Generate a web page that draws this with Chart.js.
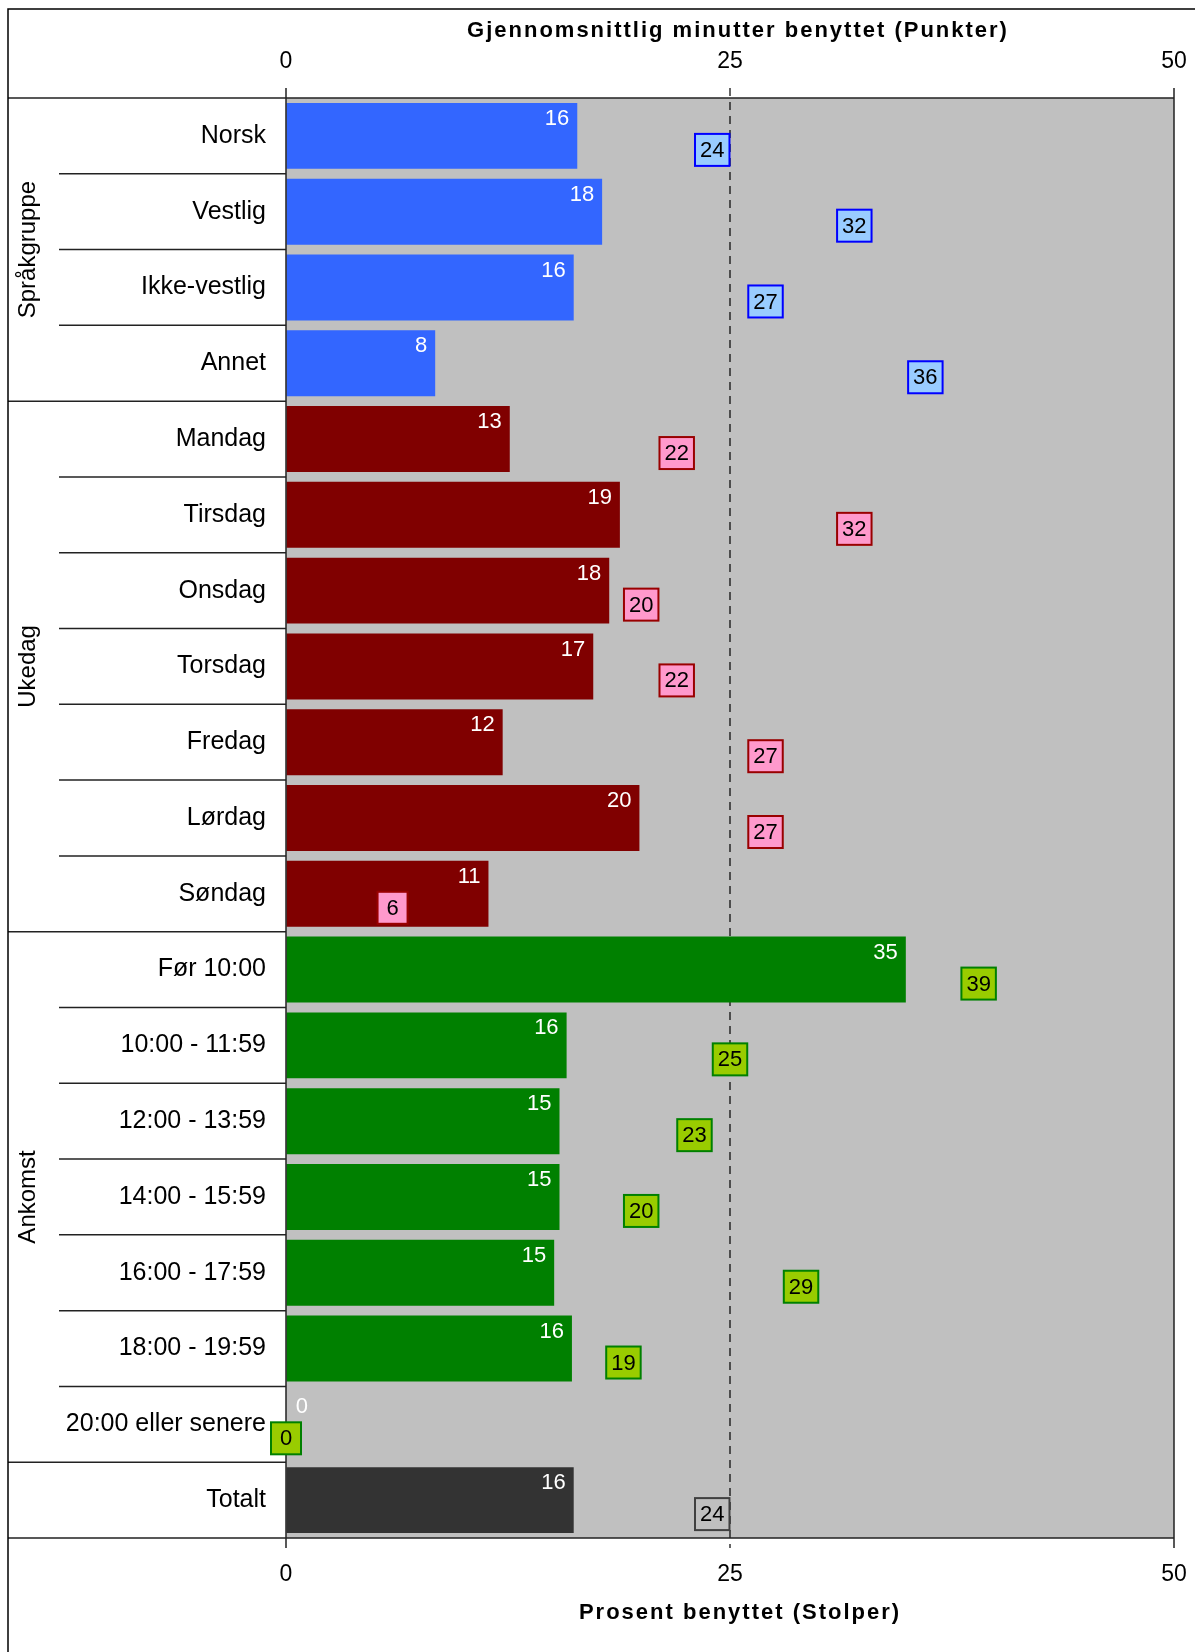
<!DOCTYPE html>
<html>
<head>
<meta charset="utf-8">
<script src="https://cdn.jsdelivr.net/npm/chart.js@4.4.0/dist/chart.umd.min.js"></script>
<style>
  html, body { margin: 0; padding: 0; background: #fff; }
  canvas { display: block; }
</style>
</head>
<body>
<canvas id="chart-main" width="1195" height="1652"></canvas>
<script>
// --- Data ---
const kategorier = ["Norsk", "Vestlig", "Ikke-vestlig", "Annet",
  "Mandag", "Tirsdag", "Onsdag", "Torsdag", "Fredag", "Lørdag", "Søndag",
  "Før 10:00", "10:00 - 11:59", "12:00 - 13:59", "14:00 - 15:59", "16:00 - 17:59", "18:00 - 19:59", "20:00 eller senere",
  "Totalt"];
const prosent = [16.4, 17.8, 16.2, 8.4, 12.6, 18.8, 18.2, 17.3, 12.2, 19.9, 11.4, 34.9, 15.8, 15.4, 15.4, 15.1, 16.1, 0, 16.2];
const minutter = [24, 32, 27, 36, 22, 32, 20, 22, 27, 27, 6, 39, 25, 23, 20, 29, 19, 0, 24];
const gruppeNavn = ["Språkgruppe", "Ukedag", "Ankomst", ""];
const gruppeStr = [4, 7, 7, 1];
const akseTicks = [0, 25, 50];

// farger per gruppe
const stolpeFarge = ["#3366ff", "#800000", "#008000", "#333333"];
const boksFyll = ["#99ccff", "#ff99cc", "#99cc00", "#c0c0c0"];
const boksKant = ["#0000ff", "#990000", "#008000", "#404040"];

const FONT = '"Liberation Sans", Arial, sans-serif';

// hvilken gruppe hver rad tilhører
const gruppeIdx = [];
gruppeStr.forEach((n, g) => { for (let i = 0; i < n; i++) gruppeIdx.push(g); });

const ekstra = {
  id: "ekstra",
  beforeDraw(chart) {
    const { ctx, chartArea: a } = chart;
    ctx.save();
    ctx.fillStyle = "#fff";
    ctx.fillRect(0, 0, chart.width, chart.height);
    ctx.fillStyle = "#c0c0c0";
    ctx.fillRect(a.left, a.top, a.right - a.left, a.bottom - a.top);
    ctx.restore();
  },
  beforeDatasetsDraw(chart) {
    const { ctx, chartArea: a, scales } = chart;
    const x25 = scales.x.getPixelForValue(25);
    ctx.save();
    ctx.strokeStyle = "#000";
    ctx.lineWidth = 1.2;
    ctx.setLineDash([8, 6]);
    ctx.beginPath();
    ctx.moveTo(x25, a.top - 10);
    ctx.lineTo(x25, a.bottom + 10);
    ctx.stroke();
    ctx.restore();
  },
  afterDatasetsDraw(chart) {
    const { ctx, chartArea: a, scales } = chart;
    const y = scales.y;
    ctx.save();

    // skillelinjer i venstre felt
    ctx.strokeStyle = "#222";
    ctx.lineWidth = 1.5;
    const grenser = [];
    let acc = 0;
    gruppeStr.forEach(n => { acc += n; grenser.push(acc); });
    for (let i = 1; i < kategorier.length; i++) {
      const py = (y.getPixelForValue(i - 1) + y.getPixelForValue(i)) / 2;
      const x0 = grenser.includes(i) ? 8 : 59;
      ctx.beginPath(); ctx.moveTo(x0, py); ctx.lineTo(a.left, py); ctx.stroke();
    }
    // ramme rundt plottet
    ctx.beginPath();
    ctx.moveTo(8, a.top); ctx.lineTo(a.right, a.top);
    ctx.moveTo(8, a.bottom); ctx.lineTo(a.right, a.bottom);
    ctx.moveTo(a.right, a.top - 10); ctx.lineTo(a.right, a.bottom + 10);
    ctx.moveTo(a.left, a.top - 10); ctx.lineTo(a.left, a.bottom + 10);
    ctx.stroke();
    // ytre ramme
    ctx.strokeStyle = "#000";
    ctx.beginPath();
    ctx.moveTo(8, chart.height); ctx.lineTo(8, 9); ctx.lineTo(chart.width, 9);
    ctx.stroke();

    // gruppetitler (rotert)
    ctx.fillStyle = "#000";
    ctx.font = "24px " + FONT;
    ctx.textAlign = "center";
    ctx.textBaseline = "middle";
    let start = 0;
    gruppeStr.forEach((n, g) => {
      if (gruppeNavn[g]) {
        const cy = (y.getPixelForValue(start) + y.getPixelForValue(start + n - 1)) / 2;
        ctx.save();
        ctx.translate(28, cy);
        ctx.rotate(-Math.PI / 2);
        ctx.fillText(gruppeNavn[g], 0, 0);
        ctx.restore();
      }
      start += n;
    });

    // aksetitler
    ctx.font = "bold 22px " + FONT;
    ctx.letterSpacing = "2px";
    ctx.fillText("Gjennomsnittlig minutter benyttet (Punkter)", 738, 31);
    ctx.fillText("Prosent benyttet (Stolper)", 740, 1613);
    ctx.letterSpacing = "0px";

    // verdier på stolpene
    const barMeta = chart.getDatasetMeta(0);
    ctx.font = "22px " + FONT;
    ctx.fillStyle = "#fff";
    ctx.textAlign = "right";
    barMeta.data.forEach((el, i) => {
      const tx = Math.max(el.x - 8, a.left + 22);
      ctx.fillText(String(Math.round(prosent[i])), tx, el.y - el.height / 2 + 16);
    });

    // punktbokser
    const ptMeta = chart.getDatasetMeta(1);
    ctx.textAlign = "center";
    ptMeta.data.forEach((el, i) => {
      const g = gruppeIdx[i];
      const txt = String(minutter[i]);
      const w = Math.max(ctx.measureText(txt).width + 10, 30);
      const h = 32;
      const cy = el.y + 14;
      ctx.fillStyle = boksFyll[g];
      ctx.fillRect(el.x - w / 2, cy - h / 2, w, h);
      ctx.strokeStyle = boksKant[g];
      ctx.lineWidth = 2;
      ctx.strokeRect(el.x - w / 2, cy - h / 2, w, h);
      ctx.fillStyle = "#000";
      ctx.fillText(txt, el.x, cy + 1);
    });
    ctx.restore();
  }
};

const tickFont = { family: FONT, size: 23 };

new Chart(document.getElementById("chart-main"), {
  type: "bar",
  data: {
    labels: kategorier,
    datasets: [
      {
        type: "bar",
        label: "Prosent benyttet (Stolper)",
        data: prosent,
        backgroundColor: gruppeIdx.map(g => stolpeFarge[g]),
        xAxisID: "x",
        yAxisID: "y",
        barPercentage: 0.87,
        categoryPercentage: 1.0,
        order: 2
      },
      {
        type: "line",
        label: "Gjennomsnittlig minutter benyttet (Punkter)",
        data: minutter,
        indexAxis: "y",
        xAxisID: "x2",
        yAxisID: "y",
        showLine: false,
        pointRadius: 0,
        order: 1
      }
    ]
  },
  options: {
    indexAxis: "y",
    responsive: false,
    animation: false,
    layout: { padding: { left: 0, right: 21, top: 0, bottom: 0 } },
    plugins: { legend: { display: false }, tooltip: { enabled: false } },
    scales: {
      y: {
        type: "category",
        grid: { display: false, drawTicks: false },
        border: { display: false },
        ticks: { color: "#000", font: { family: FONT, size: 25 }, padding: 20, autoSkip: false },
        afterFit: s => { s.width = 286; }
      },
      x: {
        position: "bottom",
        min: 0, max: 50,
        afterBuildTicks: s => { s.ticks = akseTicks.map(v => ({ value: v })); },
        grid: { display: true, drawOnChartArea: false, color: "transparent", tickLength: 10 },
        border: { display: false },
        ticks: { color: "#000", font: tickFont, padding: 13, maxRotation: 0 },
        afterFit: s => { s.height = 114; s.paddingLeft = 0; s.paddingRight = 0; }
      },
      x2: {
        position: "top",
        min: 0, max: 50,
        afterBuildTicks: s => { s.ticks = akseTicks.map(v => ({ value: v })); },
        grid: { display: true, drawOnChartArea: false, color: "transparent", tickLength: 10 },
        border: { display: false },
        ticks: { color: "#000", font: tickFont, padding: 13, maxRotation: 0 },
        afterFit: s => { s.height = 98; s.paddingLeft = 0; s.paddingRight = 0; }
      }
    }
  },
  plugins: [ekstra]
});
</script>
</body>
</html>
